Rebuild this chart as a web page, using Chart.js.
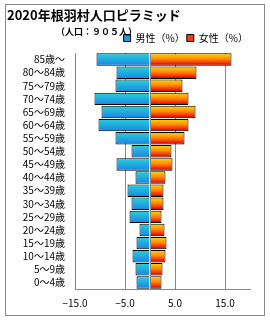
<!DOCTYPE html>
<html>
<head>
<meta charset="utf-8">
<script src="https://cdn.jsdelivr.net/npm/chart.js@4.4.1/dist/chart.umd.min.js"></script>
<style>
  body { margin: 0; background: #fff; }
  #frame { position: absolute; left: 5px; top: 4px; width: 260px; height: 312px; box-sizing: border-box; border: 1px solid #888; }
  #chart6 { position: absolute; left: 0; top: 0; }
  .ttl { position: absolute; font-family: "Noto Sans CJK JP", sans-serif; font-weight: bold; color: #000; white-space: nowrap; line-height: 1; }
  #main { left: 1px; top: 3px; font-size: 13px; }
  #sub { left: 50px; top: 22px; font-size: 9px; }
</style>
</head>
<body>
<div id="frame">
  <canvas id="chart6" width="258" height="310"></canvas>
  <div class="ttl" id="main">2020年根羽村人口ピラミッド</div>
  <div class="ttl" id="sub">（人口：９０５人）</div>
</div>
<script>
  // age groups, top row first
  const ageLabels = ["85歳〜", "80〜84歳", "75〜79歳", "70〜74歳", "65〜69歳", "60〜64歳",
    "55〜59歳", "50〜54歳", "45〜49歳", "40〜44歳", "35〜39歳", "30〜34歳",
    "25〜29歳", "20〜24歳", "15〜19歳", "10〜14歳", "5〜9歳", "0〜4歳"];

  // percent, males drawn to the left
  const malePct = [-10.7, -6.7, -6.9, -11.1, -9.7, -10.3, -6.9, -3.7, -6.7,
    -2.9, -4.5, -3.7, -4.1, -2.1, -2.7, -3.5, -2.9, -2.7];
  const femalePct = [16.3, 9.3, 6.5, 7.7, 9.1, 7.7, 6.9, 4.3, 4.5,
    3.1, 2.7, 2.7, 2.3, 2.9, 3.3, 3.1, 2.5, 2.3];

  const xTicks = [-15, -5, 0, 5, 15];

  const barPct = 0.95;
  const font = "'Noto Sans CJK JP', sans-serif";

  function barGradient(context, stops) {
    const chart = context.chart;
    const area = chart.chartArea;
    if (!area || context.dataIndex === undefined) return stops[0][1];
    const c = chart.scales.y.getPixelForValue(context.dataIndex);
    const h = (area.bottom - area.top) / ageLabels.length * barPct / 2;
    const g = chart.ctx.createLinearGradient(0, c - h, 0, c + h);
    stops.forEach(s => g.addColorStop(s[0], s[1]));
    return g;
  }

  const maleStops = [[0, "#2ad0d8"], [1, "#1a84e6"]];
  const femaleStops = [[0, "#ffd800"], [0.45, "#ff8a00"], [0.8, "#f02800"], [1, "#b00000"]];

  // gray line at 0, drawn over the bars
  const zeroLine = {
    id: "zeroLine",
    afterDatasetsDraw(chart) {
      const x = Math.round(chart.scales.x.getPixelForValue(0)) + 0.5;
      const ctx = chart.ctx;
      ctx.save();
      ctx.strokeStyle = "#888";
      ctx.lineWidth = 1;
      ctx.beginPath();
      ctx.moveTo(x, chart.chartArea.top);
      ctx.lineTo(x, chart.chartArea.bottom);
      ctx.stroke();
      ctx.restore();
    }
  };

  const ctx = document.getElementById("chart6").getContext("2d");
  const myChart = new Chart(ctx, {
    type: "bar",
    data: {
      labels: ageLabels,
      datasets: [
        {
          label: "男性（%）",
          data: malePct,
          backgroundColor: (c) => barGradient(c, maleStops),
          borderColor: "#000",
          borderWidth: 1,
          barPercentage: barPct,
          categoryPercentage: 1
        },
        {
          label: "女性（%）",
          data: femalePct,
          backgroundColor: (c) => barGradient(c, femaleStops),
          borderColor: "#000",
          borderWidth: 1,
          barPercentage: barPct,
          categoryPercentage: 1
        }
      ]
    },
    options: {
      indexAxis: "y",
      responsive: false,
      animation: false,
      layout: { padding: { top: 26, right: 14, left: 0, bottom: 0 } },
      plugins: {
        tooltip: { enabled: false },
        legend: {
          position: "top",
          align: "end",
          labels: {
            boxWidth: 7,
            boxHeight: 7,
            padding: 2,
            color: "#000",
            font: { family: font, size: 10 },
            generateLabels: (chart) => [
              { text: "男性（%）", fillStyle: "#1a9ae0", strokeStyle: "#000", lineWidth: 1, datasetIndex: 0 },
              { text: "女性（%）", fillStyle: "#f04000", strokeStyle: "#000", lineWidth: 1, datasetIndex: 1 }
            ]
          }
        }
      },
      scales: {
        x: {
          stacked: true,
          min: -15,
          max: 20,
          afterBuildTicks: (scale) => { scale.ticks = xTicks.map(v => ({ value: v })); },
          afterFit: (scale) => { scale.height = 26; },
          grid: {
            drawTicks: false,
            color: (c) => (c.tick && c.tick.value === 0) ? "rgba(0,0,0,0)" : "#888"
          },
          border: { display: true, color: "#888" },
          ticks: {
            padding: 8,
            color: "#000",
            font: { family: font, size: 10 },
            callback: (v) => v === 0 ? "" : (v < 0 ? "−" + Math.abs(v).toFixed(1) : v.toFixed(1))
          }
        },
        y: {
          stacked: true,
          afterFit: (scale) => { scale.width = 69; },
          grid: { display: false, drawTicks: false },
          border: { display: true, color: "#888" },
          ticks: {
            autoSkip: false,
            padding: 10,
            color: "#000",
            font: { family: font, size: 10 }
          }
        }
      }
    },
    plugins: [zeroLine]
  });
</script>
</body>
</html>
